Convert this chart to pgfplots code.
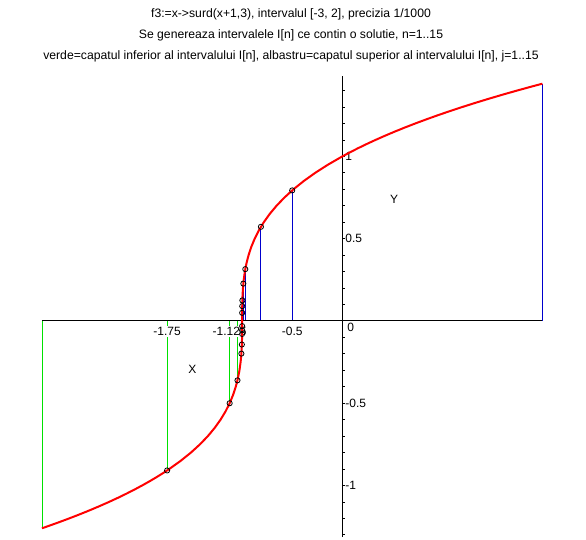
\documentclass[border=0pt]{standalone}
\usepackage{fontspec}
\setmainfont{Liberation Sans}
\usepackage{pgfplots}
\pgfplotsset{compat=1.18}
\definecolor{mgreen}{RGB}{0,225,0}
\definecolor{mblue}{RGB}{0,0,205}
\definecolor{mred}{RGB}{255,0,0}
\newcommand\fs{\fontsize{12bp}{14bp}\selectfont}
\newcommand\ft{\fontsize{12.2bp}{14bp}\selectfont}
\begin{document}
\begin{tikzpicture}
\begin{axis}[
  set layers,
  at={(0,0)}, anchor=south west,
  scale only axis, width=500.4bp, height=461bp,
  xmin=-3, xmax=2, ymin=-1.313, ymax=1.489,
  axis lines=middle,
  axis line style={-, black, line width=1bp},
  clip=false,
  xtick={-1.75,-1.125,-0.5},
  xticklabels={-1.75,-1.125,-0.5},
  major x tick style={draw=none},
  xticklabel style={anchor=north, fill=white, inner sep=1bp, yshift=-5bp, font=\fs},
  ytick={-1,-0.5,0.5,1},
  yticklabels={-1,-0.5,0.5,1},
  minor ytick={-1.3,-1.2,-1.1,-0.9,-0.8,-0.7,-0.6,-0.4,-0.3,-0.2,-0.1,0.1,0.2,0.3,0.4,0.6,0.7,0.8,0.9,1.1,1.2,1.3,1.4},
  tick align=inside,
  major tick length=3bp, minor tick length=3bp,
  every tick/.style={black, line width=0.8bp},
  yticklabel style={anchor=west, font=\fs, inner sep=0pt, xshift=3bp},
]
% lower endpoints (green)
\addplot[on layer=axis background, ycomb, mgreen, line width=1bp, mark=none] coordinates {
(-3,-1.259921) (-1.75,-0.908560) (-1.125,-0.5) (-1.046875,-0.360844)
(-1.0078125,-0.198425) (-1.0029296875,-0.143096) (-1.00048828125,-0.078745)
(-1.00018310546875,-0.056759)};
% upper endpoints (blue)
\addplot[on layer=axis background, ycomb, mblue, line width=1bp, mark=none] coordinates {
(2,1.442250) (-0.5,0.793701) (-0.8125,0.572357) (-0.96875,0.314980)
(-0.98828125,0.227082) (-0.998046875,0.125) (-0.999267578125,0.090140)
(-0.9998779296875,0.049606)};
% curve
\addplot[mred, line width=2bp, mark=none] coordinates {
(-3,-1.259921) (-2.953125,-1.25) (-2.838266,-1.225) (-2.728,-1.2) (-2.622234,-1.175)
(-2.520875,-1.15) (-2.423828,-1.125) (-2.331,-1.1) (-2.242297,-1.075) (-2.157625,-1.05)
(-2.076891,-1.025) (-2,-1.0) (-1.926859,-0.975) (-1.857375,-0.95) (-1.791453,-0.925)
(-1.729,-0.9) (-1.614125,-0.85) (-1.512,-0.8) (-1.421875,-0.75) (-1.343,-0.7)
(-1.274625,-0.65) (-1.216,-0.6) (-1.166375,-0.55) (-1.125,-0.5) (-1.091125,-0.45)
(-1.064,-0.4) (-1.042875,-0.35) (-1.027,-0.3) (-1.015625,-0.25) (-1.008,-0.2)
(-1.003375,-0.15) (-1.001,-0.1) (-1.000125,-0.05) (-1,0) (-0.999875,0.05)
(-0.999,0.1) (-0.996625,0.15) (-0.992,0.2) (-0.984375,0.25) (-0.973,0.3)
(-0.957125,0.35) (-0.936,0.4) (-0.908875,0.45) (-0.875,0.5) (-0.833625,0.55)
(-0.784,0.6) (-0.725375,0.65) (-0.657,0.7) (-0.578125,0.75) (-0.488,0.8)
(-0.385875,0.85) (-0.271,0.9) (-0.142625,0.95) (0,1.0) (0.076891,1.025)
(0.157625,1.05) (0.242297,1.075) (0.331,1.1) (0.423828,1.125) (0.520875,1.15)
(0.622234,1.175) (0.728,1.2) (0.838266,1.225) (0.953125,1.25) (1.072672,1.275)
(1.197,1.3) (1.326203,1.325) (1.460375,1.35) (1.599609,1.375) (1.744,1.4)
(1.893641,1.425) (2,1.442250)};
% midpoints
\addplot[only marks, mark=o, mark size=2.6bp, black, line width=0.8bp] coordinates {
(-0.5,0.793701) (-1.75,-0.908560) (-1.125,-0.5) (-0.8125,0.572357)
(-0.96875,0.314980) (-1.046875,-0.360844) (-1.0078125,-0.198425)
(-0.98828125,0.227082) (-0.998046875,0.125) (-1.0029296875,-0.143096)
(-1.00048828125,-0.078745) (-0.999267578125,0.090140) (-0.9998779296875,0.049606)
(-1.00018310546875,-0.056759) (-1.000030517578125,-0.03125)};
\node[font=\fs, anchor=north west, inner sep=0pt] at (axis cs:0,0) [xshift=5bp, yshift=-1.5bp] {0};
\node[font=\fs] at (axis cs:-1.497,-0.297) {X};
\node[font=\fs] at (axis cs:0.519,0.739) {Y};
\end{axis}
\node[font=\ft] at (249bp,523bp) {f3:=x->surd(x+1,3), intervalul [-3, 2], precizia 1/1000};
\node[font=\ft] at (249bp,502bp) {Se genereaza intervalele I[n] ce contin o solutie, n=1..15};
\node[font=\ft] at (249bp,481bp) {verde=capatul inferior al intervalului I[n], albastru=capatul superior al intervalului I[n], j=1..15};
\pgfresetboundingbox
\useasboundingbox (-42bp,-3bp) rectangle (544bp,537bp);
\end{tikzpicture}
\end{document}
